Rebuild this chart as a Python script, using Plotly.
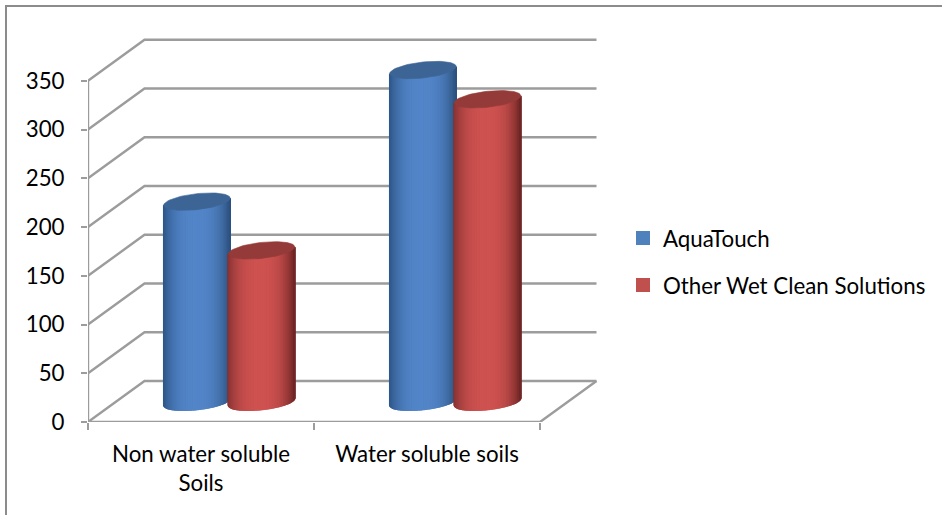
import math
import plotly.graph_objects as go

categories = ["Non water soluble<br>Soils", "Water soluble soils"]
series_names = ["AquaTouch", "Other Wet Clean Solutions"]
aquatouch = [205, 340]
other_wet = [155, 310]
y_ticks = [0, 50, 100, 150, 200, 250, 300, 350]

legend_colors = ["#4f81bd", "#c0504d"]
edge_left = [(45, 85, 135), (135, 50, 50)]
center = [(82, 133, 200), (206, 82, 80)]
edge_right = [(45, 82, 128), (112, 38, 38)]
cap_colors = ["#3c6596", "#943a38"]

GRID = "#9c9c9c"
FONT = dict(family="Lato, Carlito, Calibri, sans-serif", size=22.3, color="#000000")

# projection of the depth direction, in axis units
DX, DY = 0.25, 42
HALF = 0.147      # cylinder radius in x units
RY, TILT = 8.2, 3.6
OFFSET = 0.143
N = 60

L, R, T, B = 88, 342, 32, 93
W, H = 942, 515
xspan = (W - L - R) / 226.0

fig = go.Figure()


def mix(a, b, f):
    return tuple(round(a[i] + (b[i] - a[i]) * f) for i in range(3))


def ell(cx, cy, t):
    return cx + HALF * math.cos(t), cy + TILT * math.cos(t) + RY * math.sin(t)


# walls and floor
gx, gy = [], []
for v in y_ticks:
    gx += [0, DX, 2 + DX, None]
    gy += [v, v + DY, v + DY, None]
gx += [0, 0, None, 0, 2, 2 + DX]
gy += [0, 350, None, 0, 0, DY]
fig.add_trace(go.Scatter(x=gx, y=gy, mode="lines", line=dict(color=GRID, width=2.4),
                         cliponaxis=False, showlegend=False, hoverinfo="skip"))

# cylinders
for s, values in enumerate([aquatouch, other_wet]):
    for c, v in enumerate(values):
        cx = c + 0.5 + (2 * s - 1) * OFFSET + DX / 2
        y0 = DY / 2
        y1 = DY / 2 + v
        for i in range(N):
            t1 = math.pi + math.pi * i / N
            t2 = math.pi + math.pi * (i + 1) / N
            u = math.cos((t1 + t2) / 2)
            col = mix(center[s], edge_left[s], abs(u) ** 2.6) if u < 0 else mix(center[s], edge_right[s], u ** 2.6)
            pts = [ell(cx, y1, t1), ell(cx, y1, t2), ell(cx, y0, t2), ell(cx, y0, t1), ell(cx, y1, t1)]
            css = "rgb(%d,%d,%d)" % col
            fig.add_trace(go.Scatter(x=[p[0] for p in pts], y=[p[1] for p in pts], mode="lines",
                                     fill="toself", fillcolor=css, line=dict(color=css, width=1.5),
                                     showlegend=False, hoverinfo="skip"))
        pts = [ell(cx, y1, 2 * math.pi * k / 72) for k in range(73)]
        fig.add_trace(go.Scatter(x=[p[0] for p in pts], y=[p[1] for p in pts], mode="lines",
                                 fill="toself", fillcolor=cap_colors[s],
                                 line=dict(color=cap_colors[s], width=0.6),
                                 showlegend=False, hoverinfo="skip"))

# legend entries
for s, name in enumerate(series_names):
    fig.add_trace(go.Scatter(x=[None], y=[None], mode="markers", name=name, legendgroup=name,
                             marker=dict(symbol="square", size=14, color=legend_colors[s])))

fig.update_layout(
    width=W, height=H, paper_bgcolor="white", plot_bgcolor="white", font=FONT,
    margin=dict(l=L, r=R, t=T, b=B, pad=0, autoexpand=False),
    xaxis=dict(range=[0, xspan], showgrid=False, zeroline=False, showline=False,
               tickmode="array", tickvals=[0.5, 1.5], ticktext=categories, ticks="",
               ticklabelstandoff=17, tickfont=FONT,
               minor=dict(tickmode="array", tickvals=[0, 1, 2], ticks="outside", ticklen=7,
                          tickwidth=2, tickcolor=GRID, showgrid=False)),
    yaxis=dict(range=[0, 400], showgrid=False, zeroline=False, showline=False,
               tickmode="array", tickvals=y_ticks, ticks="outside", ticklen=6, tickwidth=2,
               tickcolor=GRID, ticklabelstandoff=12, tickfont=FONT),
    legend=dict(x=(623 - L) / (W - L - R), xanchor="left",
                y=(H - B - 261.5) / (H - T - B), yanchor="middle",
                tracegroupgap=15, font=FONT, bgcolor="rgba(0,0,0,0)"),
    shapes=[dict(type="path", xref="paper", yref="paper", layer="below",
                 path="M %f %f L %f %f L %f %f" % (
                     (6 - L) / (W - L - R), (H - B - H) / (H - T - B),
                     (6 - L) / (W - L - R), (H - B - 6) / (H - T - B),
                     (W - L) / (W - L - R), (H - B - 6) / (H - T - B)),
                 line=dict(color="#8c8c8c", width=2))],
)

fig.write_html("out.html", config=dict(displayModeBar=False),
               post_script="document.body.style.margin='0';")
